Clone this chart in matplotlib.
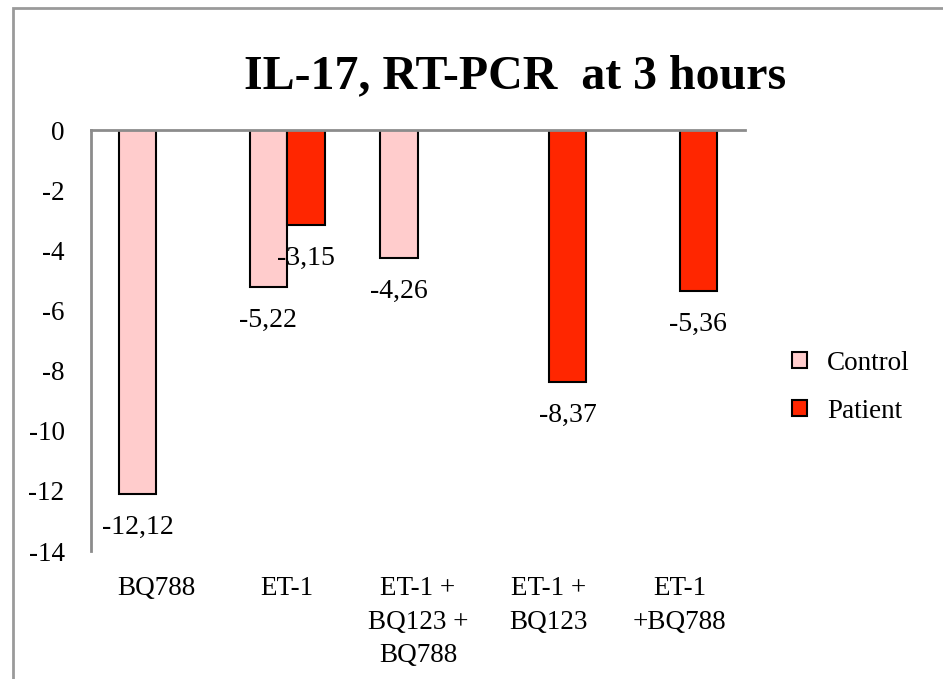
import matplotlib.pyplot as plt
import matplotlib.patches as mpatches
import numpy as np

# IL-17 expression change (RT-PCR) at 3 hours, per treatment
categories = ["BQ788", "ET-1", "ET-1 +\nBQ123 +\nBQ788", "ET-1 +\nBQ123", "ET-1\n+BQ788"]
control = [-12.12, -5.22, -4.26, np.nan, np.nan]
patient = [np.nan, -3.15, np.nan, -8.37, -5.36]
series_names = ["Control", "Patient"]
yticks = [0, -2, -4, -6, -8, -10, -12, -14]

serif = "Liberation Serif"
col_control = "#FFCCCC"
col_patient = "#FF2600"
axis_gray = "#8C8C8C"

fig = plt.figure(figsize=(9.43, 6.79), dpi=100)
ax = fig.add_axes([0.0965, 0.1885, 0.6935, 0.62])

x = np.arange(len(categories))
w = 0.287
b1 = ax.bar(x - w / 2, control, w, color=col_control, edgecolor="black", linewidth=1.5)
b2 = ax.bar(x + w / 2, patient, w, color=col_patient, edgecolor="black", linewidth=1.5)

# value labels under each bar, comma decimals
for xs, vals in [(x - w / 2, control), (x + w / 2, patient)]:
    for xi, v in zip(xs, vals):
        if np.isnan(v):
            continue
        ax.annotate(f"{v:.2f}".replace(".", ","), (xi, v), xytext=(0, -24),
                    textcoords="offset points", ha="center", va="center",
                    fontsize=20, family=serif)

ax.set_xlim(-0.5, len(categories) - 0.5)
ax.set_ylim(-14, 0)
ax.set_yticks(yticks)
ax.set_yticklabels([str(t) for t in yticks], fontsize=19.5, family=serif)
ax.set_xticks(x)
ax.set_xticklabels(categories, fontsize=19.5, family=serif, linespacing=1.45, va="top")
ax.tick_params(axis="y", length=0, pad=19)
ax.tick_params(axis="x", length=0, pad=18)

for s in ["bottom", "right"]:
    ax.spines[s].set_visible(False)
for s in ["top", "left"]:
    ax.spines[s].set_color(axis_gray)
    ax.spines[s].set_linewidth(2)

fig.text(0.546, 0.888, "IL-17, RT-PCR  at 3 hours", ha="center", va="center",
         fontsize=34.5, fontweight="bold", family=serif)

handles = [mpatches.Patch(facecolor=col_control, edgecolor="black", linewidth=1.5),
           mpatches.Patch(facecolor=col_patient, edgecolor="black", linewidth=1.5)]
fig.legend(handles, series_names, loc="center left", bbox_to_anchor=(0.814, 0.43),
           frameon=False, prop={"family": serif, "size": 19.5},
           handlelength=0.55, handleheight=0.55, labelspacing=0.85, handletextpad=0.75)

# outer chart frame
fig.patches.append(mpatches.Rectangle((0.0135, -0.1), 1.2, 1.088, transform=fig.transFigure,
                                      fill=False, edgecolor="#9A9A9A", linewidth=2))

fig.savefig("out.png", dpi=100)
